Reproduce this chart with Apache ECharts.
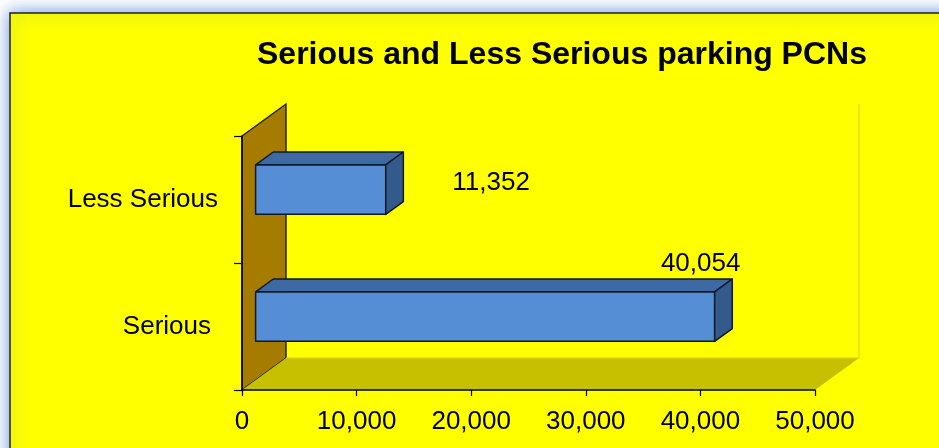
<!DOCTYPE html>
<html>
<head>
<meta charset="utf-8">
<script src="https://cdn.jsdelivr.net/npm/echarts@6/dist/echarts.min.js"></script>
<style>
  html, body { margin: 0; padding: 0; background: #ffffff; }
  #chart { width: 939px; height: 448px; }
</style>
</head>
<body>
<div id="chart"></div>
<script>
// ---- data ----
const titleText = 'Serious and Less Serious parking PCNs';
const categories = ['Serious', 'Less Serious'];
const values = [40054, 11352];
const xMin = 0;
const xMax = 50000;
const xStep = 10000;

// ---- styling ----
const FONT = 'Liberation Sans, Arial, Helvetica, sans-serif';
const DX = 44, DY = -32;          // 3D depth of the plot box
const F0 = 0.31, F1 = 0.71;       // bar depth placement (fraction of box depth)
const BAR_FRAC = 0.39;            // bar thickness as fraction of category band
const fmt = v => Number(v).toLocaleString('en-US');

const chart = echarts.init(document.getElementById('chart'), null, { renderer: 'canvas' });

function renderBox(params, api) {
  const cs = params.coordSys;
  const gx = cs.x, gy = cs.y, gw = cs.width, gh = cs.height;
  const by = gy + gh;
  return {
    type: 'group',
    children: [
      { // left side wall
        type: 'polygon',
        shape: { points: [[gx, gy], [gx + DX, gy + DY], [gx + DX, by + DY], [gx, by]] },
        style: { fill: '#A67C00', stroke: '#1a1a1a', lineWidth: 1.4 }
      },
      { // floor
        type: 'polygon',
        shape: { points: [[gx, by], [gx + gw, by], [gx + gw + DX, by + DY], [gx + DX, by + DY]] },
        style: { fill: '#C6C000', stroke: null }
      },
      { // floor back edge highlight
        type: 'line',
        shape: { x1: gx + DX, y1: by + DY, x2: gx + gw + DX, y2: by + DY },
        style: { stroke: '#D6D200', lineWidth: 1 }
      },
      { // back wall right edge
        type: 'line',
        shape: { x1: gx + gw + DX, y1: gy + DY, x2: gx + gw + DX, y2: by + DY },
        style: { stroke: '#E2E000', lineWidth: 1.5 }
      }
    ]
  };
}

function renderBar(params, api) {
  const val = api.value(0);
  const cat = api.value(1);
  const s = api.coord([0, cat]);
  const e = api.coord([val, cat]);
  const band = api.size([0, 1])[1];
  const h = band * BAR_FRAC;
  const fx = DX * F0, fy = DY * F0;
  const bx = DX * (F1 - F0), bY = DY * (F1 - F0);
  const x0 = s[0] + fx, x1 = e[0] + fx;
  const yc = s[1] + fy;
  const yt = yc - h / 2, yb = yc + h / 2;
  const stroke = { stroke: '#0d1a2a', lineWidth: 1.5, lineJoin: 'round' };
  let label;
  if (categories[params.dataIndex] === 'Less Serious') {
    label = { type: 'text', x: x1 + bx + 49, y: yc - 7,
      style: { text: fmt(val), fill: '#000', font: '26px ' + FONT, textAlign: 'left', textVerticalAlign: 'middle' } };
  } else {
    label = { type: 'text', x: x1 - 14, y: yt + bY - 15,
      style: { text: fmt(val), fill: '#000', font: '26px ' + FONT, textAlign: 'center', textVerticalAlign: 'middle' } };
  }
  return {
    type: 'group',
    children: [
      { type: 'polygon', shape: { points: [[x0, yt], [x1, yt], [x1, yb], [x0, yb]] },
        style: Object.assign({ fill: '#558ED5' }, stroke) },
      { type: 'polygon', shape: { points: [[x0, yt], [x0 + bx, yt + bY], [x1 + bx, yt + bY], [x1, yt]] },
        style: Object.assign({ fill: '#3E69A3' }, stroke) },
      { type: 'polygon', shape: { points: [[x1, yt], [x1 + bx, yt + bY], [x1 + bx, yb + bY], [x1, yb]] },
        style: Object.assign({ fill: '#345A8C' }, stroke) },
      label
    ]
  };
}

const option = {
  backgroundColor: '#ffffff',
  animation: false,
  graphic: {
    elements: [{
      type: 'rect', z: -100, silent: true,
      shape: { x: 10, y: 13, width: 1000, height: 1000 },
      style: { fill: '#FFFF00', stroke: '#222', lineWidth: 1.5,
               shadowBlur: 16, shadowColor: 'rgba(70,120,210,0.8)' }
    }]
  },
  title: {
    text: titleText,
    left: 252, top: 34,
    textStyle: { fontFamily: FONT, fontSize: 32, fontWeight: 'bold', color: '#000' }
  },
  grid: { left: 242, top: 136, width: 573, height: 254, containLabel: false },
  xAxis: {
    type: 'value', min: xMin, max: xMax, interval: xStep,
    axisLine: { show: true, lineStyle: { color: '#000', width: 1.5 } },
    axisTick: { show: true, length: 6, lineStyle: { color: '#000', width: 1.2 } },
    splitLine: { show: false },
    axisLabel: { margin: 19, color: '#000', fontFamily: FONT, fontSize: 26, formatter: v => fmt(v) }
  },
  yAxis: {
    type: 'category', data: categories,
    axisLine: { show: true, lineStyle: { color: '#000', width: 1.5 } },
    axisTick: { show: true, length: 8, lineStyle: { color: '#000', width: 1.2 } },
    axisLabel: {
      margin: 24, color: '#000', fontFamily: FONT, fontSize: 26,
      formatter: v => v === 'Serious' ? '{s|' + v + '}' : v,
      rich: { s: { fontFamily: FONT, fontSize: 26, color: '#000', padding: [0, 7, 0, 0] } }
    }
  },
  series: [
    {
      type: 'custom', name: 'box', z: -1, clip: false, silent: true,
      renderItem: renderBox,
      data: [[xMin, 0]]
    },
    {
      type: 'custom', name: 'PCNs', z: 5, clip: false,
      renderItem: renderBar,
      encode: { x: 0, y: 1 },
      data: values.map((v, i) => [v, i])
    }
  ]
};
chart.setOption(option);
</script>
</body>
</html>
